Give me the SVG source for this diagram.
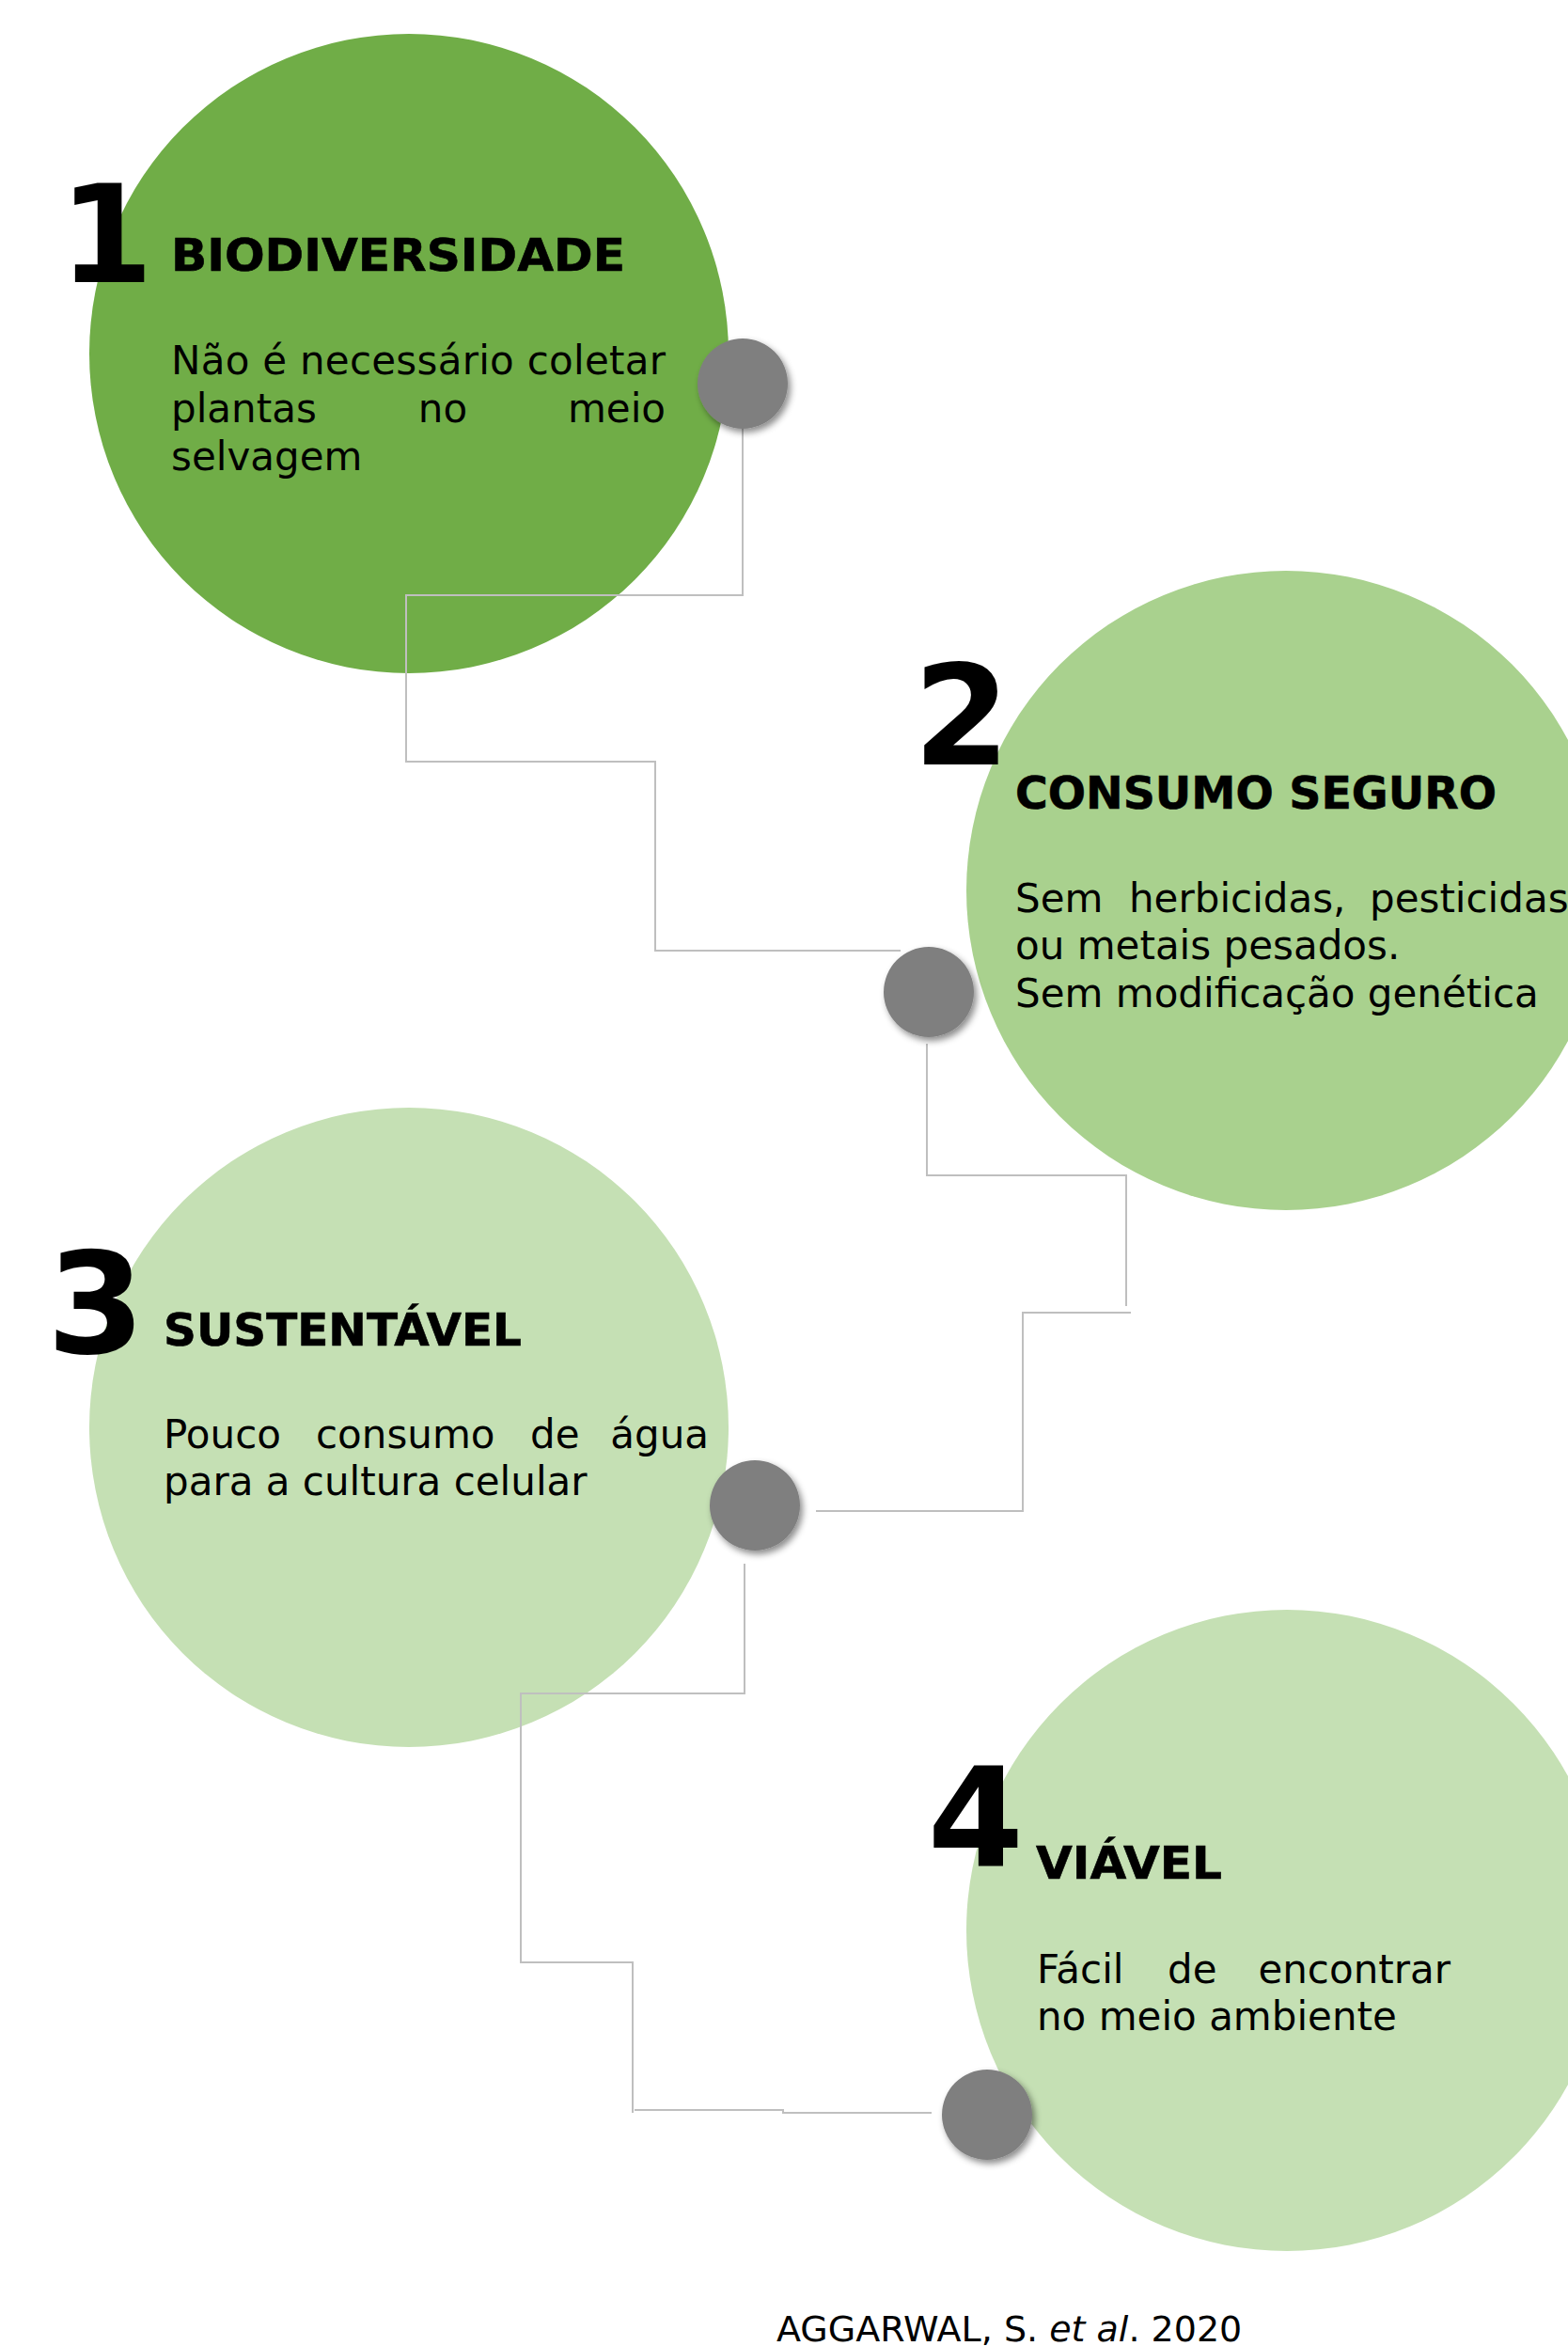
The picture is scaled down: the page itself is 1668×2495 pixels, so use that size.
<svg xmlns="http://www.w3.org/2000/svg" width="1668" height="2495" viewBox="0 0 1668 2495">
<style>
.num{font-family:"DejaVu Sans",Verdana,sans-serif;font-weight:bold;fill:#000;text-anchor:middle}
.title{font-family:"DejaVu Sans",Verdana,sans-serif;font-weight:bold;font-size:48px;fill:#000;stroke:#000;stroke-width:0.6}
.body{font-family:"DejaVu Sans",Verdana,sans-serif;font-size:42px;fill:#000}
.conn{fill:none;stroke:#BFBFBF;stroke-width:2}
.dot{fill:#7F7F7F;filter:url(#sh)}
</style>
<defs>
<filter id="sh" x="-30%" y="-30%" width="170%" height="170%">
<feDropShadow dx="3" dy="4" stdDeviation="3.5" flood-color="#000" flood-opacity="0.45"/>
</filter>
</defs>
<rect width="1668" height="2495" fill="#fff"/>
<g id="node1-circle"><circle cx="435" cy="376" r="340" fill="#70AD47"/></g>
<g id="node2-circle"><circle cx="1368" cy="947" r="340" fill="#A9D18E"/></g>
<g id="node3-circle"><circle cx="435" cy="1518" r="340" fill="#C5E0B4"/></g>
<g id="node4-circle"><circle cx="1369" cy="2053" r="341" fill="#C5E0B4"/></g>
<g id="connectors">
<path class="conn" d="M790,456 V633 H432 V810 H697 V1011 H958"/>
<path class="conn" d="M986,1110 V1250 H1198 V1389"/>
<path class="conn" d="M1203,1396 H1088 V1607 H868"/>
<path class="conn" d="M792,1663 V1801 H554 V2087 H673 V2247"/>
<path class="conn" d="M675,2244 H833 V2247 H991"/>
</g>
<g id="dots">
<circle class="dot" cx="790" cy="408" r="48"/>
<circle class="dot" cx="988" cy="1055" r="48"/>
<circle class="dot" cx="803" cy="1601" r="48"/>
<circle class="dot" cx="1050" cy="2249" r="48"/>
</g>
<g id="node1">
<text class="num" x="113" y="300" font-size="144">1</text>
<text class="title" x="182" y="288" textLength="483" lengthAdjust="spacingAndGlyphs">BIODIVERSIDADE</text>
<text class="body" y="398"><tspan x="182" textLength="526" lengthAdjust="spacing">Não é necessário coletar</tspan></text>
<text class="body" y="449"><tspan x="182">plantas</tspan><tspan x="471" text-anchor="middle">no</tspan><tspan x="708" text-anchor="end">meio</tspan></text>
<text class="body" x="182" y="500">selvagem</text>
</g>
<g id="node2">
<text class="num" x="1023" y="813" font-size="148">2</text>
<text class="title" x="1080" y="860" textLength="512" lengthAdjust="spacingAndGlyphs">CONSUMO SEGURO</text>
<text class="body" y="970"><tspan x="1080">Sem</tspan><tspan x="1201">herbicidas,</tspan><tspan x="1457">pesticidas</tspan></text>
<text class="body" x="1080" y="1020">ou metais pesados.</text>
<text class="body" x="1080" y="1071">Sem modificação genética</text>
</g>
<g id="node3">
<text class="num" x="102" y="1439" font-size="150">3</text>
<text class="title" x="174" y="1431" textLength="381" lengthAdjust="spacingAndGlyphs">SUSTENTÁVEL</text>
<text class="body" y="1540"><tspan x="174">Pouco</tspan><tspan x="336">consumo</tspan><tspan x="564">de</tspan><tspan x="754" text-anchor="end">água</tspan></text>
<text class="body" x="174" y="1590">para a cultura celular</text>
</g>
<g id="node4">
<text class="num" x="1038" y="1984" font-size="147">4</text>
<text class="title" x="1102" y="1998" textLength="198" lengthAdjust="spacingAndGlyphs">VIÁVEL</text>
<text class="body" y="2109"><tspan x="1103">Fácil</tspan><tspan x="1242">de</tspan><tspan x="1543" text-anchor="end">encontrar</tspan></text>
<text class="body" x="1103" y="2159">no meio ambiente</text>
</g>
<g id="citation">
<text x="826" y="2490" font-family="DejaVu Sans, Verdana, sans-serif" font-size="38" fill="#000">AGGARWAL, S. <tspan font-style="italic">et al</tspan>. 2020</text>
</g>
</svg>
